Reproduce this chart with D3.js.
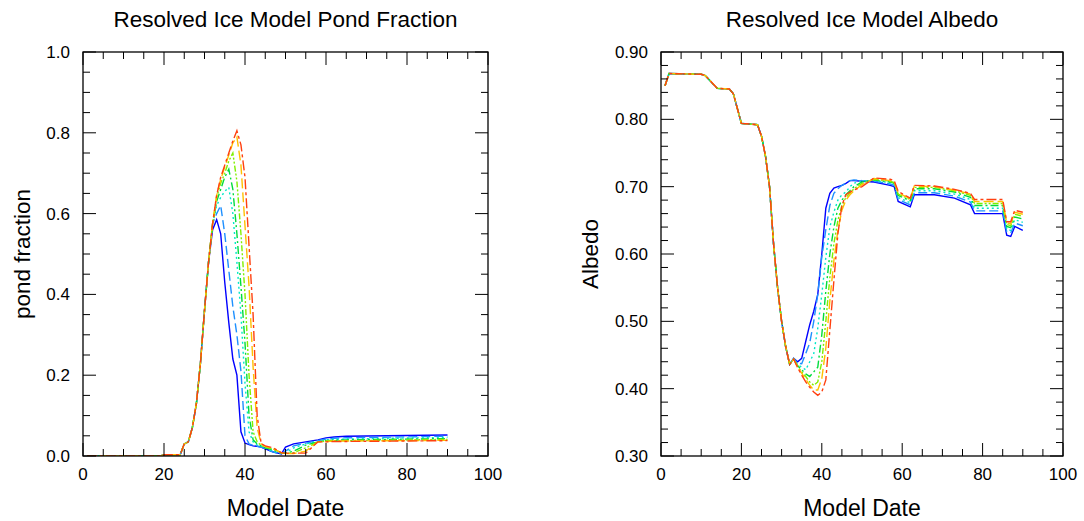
<!DOCTYPE html>
<html>
<head>
<meta charset="utf-8">
<script src="https://cdn.jsdelivr.net/npm/d3@7"></script>
<style>
  body { margin: 0; background: #fff; }
  text { font-family: "Liberation Sans", Arial, sans-serif; }
</style>
</head>
<body>
<div id="display"></div>
<script>
// days shared by all runs before they split apart
const pondDaysCommon = [1, 19, 20, 24, 25, 26, 27, 28, 29, 30, 31];
const pondCommon = [0, 0, 0.003, 0.003, 0.03, 0.035, 0.07, 0.13, 0.23, 0.36, 0.48];
const pondDays = [32, 33, 34, 35, 36, 37, 38, 39, 40, 41, 42, 43, 44, 45, 47, 49, 50, 52, 55, 58, 60, 62, 65, 90];

const pondBlue   = [0.56, 0.585, 0.55, 0.43, 0.33, 0.24, 0.20, 0.06, 0.032, 0.028, 0.025, 0.024, 0.022, 0.018, 0.01, 0.005, 0.022, 0.03, 0.035, 0.04, 0.045, 0.047, 0.049, 0.052];
const pondLtBlue = [0.575, 0.60, 0.62, 0.55, 0.46, 0.37, 0.30, 0.21, 0.05, 0.03, 0.026, 0.024, 0.022, 0.018, 0.01, 0.005, 0.012, 0.025, 0.032, 0.038, 0.042, 0.044, 0.045, 0.049];
const pondCyan   = [0.575, 0.62, 0.64, 0.655, 0.665, 0.60, 0.48, 0.35, 0.18, 0.06, 0.035, 0.027, 0.024, 0.02, 0.012, 0.006, 0.008, 0.02, 0.03, 0.036, 0.04, 0.041, 0.042, 0.046];
const pondGreen  = [0.575, 0.63, 0.66, 0.69, 0.71, 0.66, 0.55, 0.42, 0.28, 0.10, 0.04, 0.03, 0.025, 0.02, 0.015, 0.007, 0.007, 0.012, 0.027, 0.035, 0.038, 0.039, 0.04, 0.043];
const pondLime   = [0.575, 0.64, 0.675, 0.70, 0.73, 0.75, 0.68, 0.55, 0.40, 0.20, 0.06, 0.035, 0.026, 0.022, 0.017, 0.008, 0.006, 0.008, 0.02, 0.035, 0.037, 0.038, 0.038, 0.041];
const pondYellow = [0.575, 0.645, 0.685, 0.715, 0.745, 0.775, 0.79, 0.72, 0.57, 0.42, 0.22, 0.07, 0.03, 0.024, 0.018, 0.008, 0.006, 0.006, 0.012, 0.035, 0.036, 0.037, 0.037, 0.039];
const pondRed    = [0.575, 0.645, 0.69, 0.72, 0.75, 0.78, 0.805, 0.77, 0.69, 0.52, 0.35, 0.10, 0.03, 0.025, 0.02, 0.008, 0.007, 0.007, 0.007, 0.035, 0.035, 0.036, 0.036, 0.038];

const albDaysCommon = [1, 2, 10, 11, 14, 17, 18, 20, 24, 25, 26, 27, 28, 29, 30, 31, 32];
const albCommon = [0.850, 0.868, 0.867, 0.865, 0.846, 0.845, 0.838, 0.794, 0.792, 0.775, 0.745, 0.700, 0.615, 0.550, 0.500, 0.463, 0.436];
const albDays = [33, 34, 35, 36, 37, 38, 39, 40, 41, 42, 43, 44, 45, 46, 47, 48, 50, 53, 57, 58, 59, 62, 63, 68, 73, 77, 78, 79, 85, 86, 87, 88, 90];

const albBlue   = [0.445, 0.440, 0.445, 0.470, 0.495, 0.515, 0.540, 0.600, 0.668, 0.690, 0.698, 0.700, 0.702, 0.705, 0.709, 0.709, 0.708, 0.707, 0.702, 0.700, 0.678, 0.670, 0.688, 0.688, 0.683, 0.673, 0.660, 0.660, 0.660, 0.628, 0.626, 0.641, 0.635];
const albLtBlue = [0.445, 0.438, 0.437, 0.452, 0.468, 0.500, 0.540, 0.596, 0.636, 0.672, 0.690, 0.697, 0.702, 0.705, 0.709, 0.710, 0.709, 0.708, 0.704, 0.702, 0.681, 0.673, 0.691, 0.691, 0.686, 0.677, 0.664, 0.664, 0.664, 0.633, 0.631, 0.646, 0.642];
const albCyan   = [0.444, 0.436, 0.432, 0.428, 0.440, 0.452, 0.490, 0.540, 0.595, 0.640, 0.662, 0.680, 0.688, 0.692, 0.700, 0.705, 0.709, 0.709, 0.706, 0.704, 0.684, 0.676, 0.694, 0.694, 0.689, 0.681, 0.668, 0.668, 0.668, 0.637, 0.635, 0.651, 0.647];
const albGreen  = [0.444, 0.434, 0.428, 0.422, 0.418, 0.425, 0.432, 0.480, 0.545, 0.600, 0.640, 0.668, 0.680, 0.688, 0.694, 0.700, 0.707, 0.710, 0.707, 0.705, 0.687, 0.679, 0.697, 0.697, 0.692, 0.684, 0.672, 0.672, 0.672, 0.641, 0.639, 0.655, 0.652];
const albLime   = [0.444, 0.433, 0.425, 0.418, 0.410, 0.405, 0.410, 0.440, 0.500, 0.565, 0.615, 0.650, 0.672, 0.684, 0.690, 0.697, 0.705, 0.711, 0.708, 0.706, 0.689, 0.681, 0.699, 0.699, 0.694, 0.687, 0.675, 0.675, 0.675, 0.644, 0.642, 0.659, 0.656];
const albYellow = [0.444, 0.432, 0.423, 0.414, 0.405, 0.398, 0.398, 0.415, 0.460, 0.530, 0.590, 0.635, 0.665, 0.680, 0.688, 0.694, 0.703, 0.712, 0.709, 0.707, 0.691, 0.682, 0.701, 0.700, 0.695, 0.689, 0.678, 0.678, 0.678, 0.646, 0.645, 0.662, 0.659];
const albRed    = [0.444, 0.431, 0.420, 0.410, 0.402, 0.395, 0.390, 0.395, 0.413, 0.487, 0.560, 0.630, 0.672, 0.688, 0.692, 0.695, 0.700, 0.713, 0.711, 0.709, 0.693, 0.683, 0.702, 0.701, 0.696, 0.690, 0.681, 0.681, 0.681, 0.648, 0.648, 0.665, 0.662];

const colors = ['#0000ff', '#1e90ff', '#00e8c8', '#00dc3c', '#80f000', '#ffc000', '#ff4010'];
const dashes = [null, '9,4', '2,3', '8,3,2,3', '6,2,2,2,2,2', '10,4', '10,3,3,3'];

const xTicks = [0, 20, 40, 60, 80, 100];
const pondTicks = [0, 0.2, 0.4, 0.6, 0.8, 1.0];
const albTicks = [0.3, 0.4, 0.5, 0.6, 0.7, 0.8, 0.9];

const svg = d3.select('#display')
  .append('svg')
  .attr('width', 1084)
  .attr('height', 521);

function Panel(box, yDomain, yTicks, yMinorStep, yFmt, title, ylabel, ylabelX) {
  const x = d3.scaleLinear().domain([0, 100]).range([box.x0, box.x1]);
  const y = d3.scaleLinear().domain(yDomain).range([box.y1, box.y0]);
  const g = svg.append('g');

  const clip = 'clip' + Math.round(box.x0);
  g.append('clipPath').attr('id', clip)
    .append('rect').attr('x', box.x0).attr('y', box.y0)
    .attr('width', box.x1 - box.x0).attr('height', box.y1 - box.y0);
  const lines = g.append('g').attr('clip-path', `url(#${clip})`);

  const xMinor = d3.range(0, 100.001, 5);
  const yMinor = d3.range(yDomain[0], yDomain[1] + 1e-6, yMinorStep);

  // inward ticks on all four sides
  const tk = g.append('g').attr('stroke', '#000').attr('stroke-width', 1);
  xMinor.forEach(v => {
    const len = xTicks.includes(Math.round(v)) ? 13 : 7;
    tk.append('line').attr('x1', x(v)).attr('x2', x(v)).attr('y1', box.y1).attr('y2', box.y1 - len);
    tk.append('line').attr('x1', x(v)).attr('x2', x(v)).attr('y1', box.y0).attr('y2', box.y0 + len);
  });
  yMinor.forEach(v => {
    const major = yTicks.some(t => Math.abs(t - v) < 1e-6);
    const len = major ? 13 : 7;
    tk.append('line').attr('x1', box.x0).attr('x2', box.x0 + len).attr('y1', y(v)).attr('y2', y(v));
    tk.append('line').attr('x1', box.x1).attr('x2', box.x1 - len).attr('y1', y(v)).attr('y2', y(v));
  });

  g.append('rect').attr('x', box.x0).attr('y', box.y0)
    .attr('width', box.x1 - box.x0).attr('height', box.y1 - box.y0)
    .attr('fill', 'none').attr('stroke', '#000').attr('stroke-width', 1.3);

  xTicks.forEach(v => {
    g.append('text').attr('x', x(v)).attr('y', box.y1 + 24)
      .attr('text-anchor', 'middle').attr('font-size', '17px').text(v);
  });
  yTicks.forEach(v => {
    g.append('text').attr('x', box.x0 - 13).attr('y', y(v) + 6)
      .attr('text-anchor', 'end').attr('font-size', '17px').text(yFmt(v));
  });

  g.append('text').attr('x', (box.x0 + box.x1) / 2).attr('y', 27)
    .attr('text-anchor', 'middle').attr('font-size', '22.5px').text(title);
  g.append('text').attr('x', (box.x0 + box.x1) / 2).attr('y', 516)
    .attr('text-anchor', 'middle').attr('font-size', '23px').text('Model Date');
  g.append('text').attr('transform', `translate(${ylabelX},${(box.y0 + box.y1) / 2}) rotate(-90)`)
    .attr('text-anchor', 'middle').attr('font-size', '22.5px').text(ylabel);

  const line = d3.line().x(d => x(d[0])).y(d => y(d[1]));

  this.addSeries = function (days, vals, i) {
    lines.append('path')
      .datum(days.map((d, k) => [d, vals[k]]))
      .attr('d', line)
      .attr('fill', 'none')
      .attr('stroke', colors[i])
      .attr('stroke-width', 1.4)
      .attr('stroke-dasharray', dashes[i]);
  };
}

const left = new Panel({x0: 83, x1: 488, y0: 52, y1: 456}, [0, 1], pondTicks, 0.05,
  d3.format('.1f'), 'Resolved Ice Model Pond Fraction', 'pond fraction', 30);
const right = new Panel({x0: 661, x1: 1063, y0: 52, y1: 456}, [0.3, 0.9], albTicks, 0.02,
  d3.format('.2f'), 'Resolved Ice Model Albedo', 'Albedo', 598);

const pondSeries = [pondBlue, pondLtBlue, pondCyan, pondGreen, pondLime, pondYellow, pondRed];
const albSeries = [albBlue, albLtBlue, albCyan, albGreen, albLime, albYellow, albRed];

for (let i = 0; i < pondSeries.length; i++) {
  left.addSeries(pondDaysCommon.concat(pondDays), pondCommon.concat(pondSeries[i]), i);
  right.addSeries(albDaysCommon.concat(albDays), albCommon.concat(albSeries[i]), i);
}
</script>
</body>
</html>
